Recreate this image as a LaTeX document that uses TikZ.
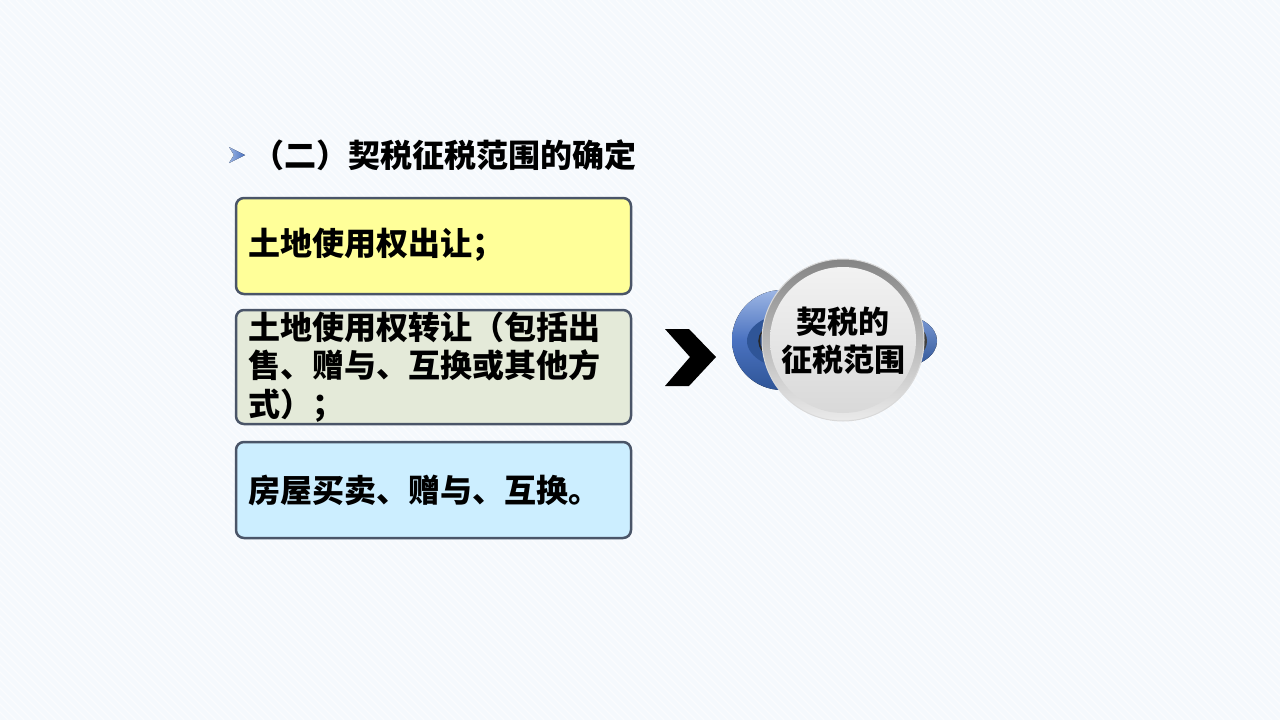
\documentclass[tikz,border=0pt]{standalone}
\usepackage{fontspec}
\setmainfont{Noto Sans CJK SC}
\usetikzlibrary{shapes.geometric}
\definecolor{bgc}{HTML}{F5F9FD}
\definecolor{edgec}{HTML}{4A5568}
\definecolor{fillA}{HTML}{FFFF99}
\definecolor{fillB}{HTML}{E4EAD9}
\definecolor{fillC}{HTML}{CCEEFF}
\definecolor{bluec}{HTML}{4A72C0}
\definecolor{bluel}{HTML}{9DB6E4}
\definecolor{blued}{HTML}{2F5597}
\tikzset{
  itembox/.style={draw=edgec, line width=2.5pt, rounded corners=8pt, minimum width=395pt, anchor=north west, outer sep=0pt},
  itemtext/.style={anchor=west, align=left, font=\fontsize{32}{38.5}\selectfont\bfseries, inner sep=0pt},
}
\begin{document}
\begin{tikzpicture}[x=1pt,y=-1pt]
\useasboundingbox (0,0) rectangle (1280,720);
\fill[bgc] (0,0) rectangle (1280,720);
\begin{scope}
\clip (0,0) rectangle (1280,720);
\foreach \i in {-720,-712,...,1280}{
  \draw[white, line width=1.2pt, opacity=0.6] (\i,0) -- (\i+720,720);
}
\end{scope}
% title
\fill[left color=bluel, right color=bluec] (229,147) -- (245,155) -- (229,163) -- (234,155) -- cycle;
\node[anchor=west, inner sep=0pt, font=\fontsize{32}{38}\selectfont\bfseries] (title) at (252,155) {（二）契税征税范围的确定};
% boxes
\node[itembox, fill=fillA, minimum height=96pt] (b1) at (236,198) {};
\node[itembox, fill=fillB, minimum height=114pt] (b2) at (236,310) {};
\node[itembox, fill=fillC, minimum height=96pt] (b3) at (236,442) {};
\node[itemtext] (t1) at (248,245) {土地使用权出让；};
\node[itemtext] (t2) at (248,367) {土地使用权转让（包括出\\售、赠与、互换或其他方\\式）；};
\node[itemtext] (t3) at (248,490) {房屋买卖、赠与、互换。};
% chevron
\fill[black] (665,329) -- (689,329) -- (716,357) -- (689,386) -- (665,386) -- (690,357) -- cycle;
% circle emblem: blue ring behind
\fill[top color=bluel, bottom color=blued, middle color=bluec] (782,340) circle (50);
\fill[top color=bluel!60!bluec, bottom color=blued] (900,341) ellipse (37 and 26);
\fill[blued] (797,341) ellipse (50 and 29);
\draw[black!85, line width=1.5pt, fill=blued!80!black] (805,341) ellipse (46 and 25);
\fill[black!75] (905,341) ellipse (22 and 19);
\node[circle, minimum size=162pt, inner sep=0pt, top color=black!48, bottom color=black!8, draw=black!15, line width=1pt] (co) at (843,340) {};
\node[circle, minimum size=146pt, inner sep=0pt, top color=white!95!black, bottom color=black!15] (ci) at (843,340) {};
\node[align=center, font=\fontsize{31}{38}\selectfont\bfseries, inner sep=0pt] (ct) at (843,341) {契税的\\征税范围};
\end{tikzpicture}
\end{document}
